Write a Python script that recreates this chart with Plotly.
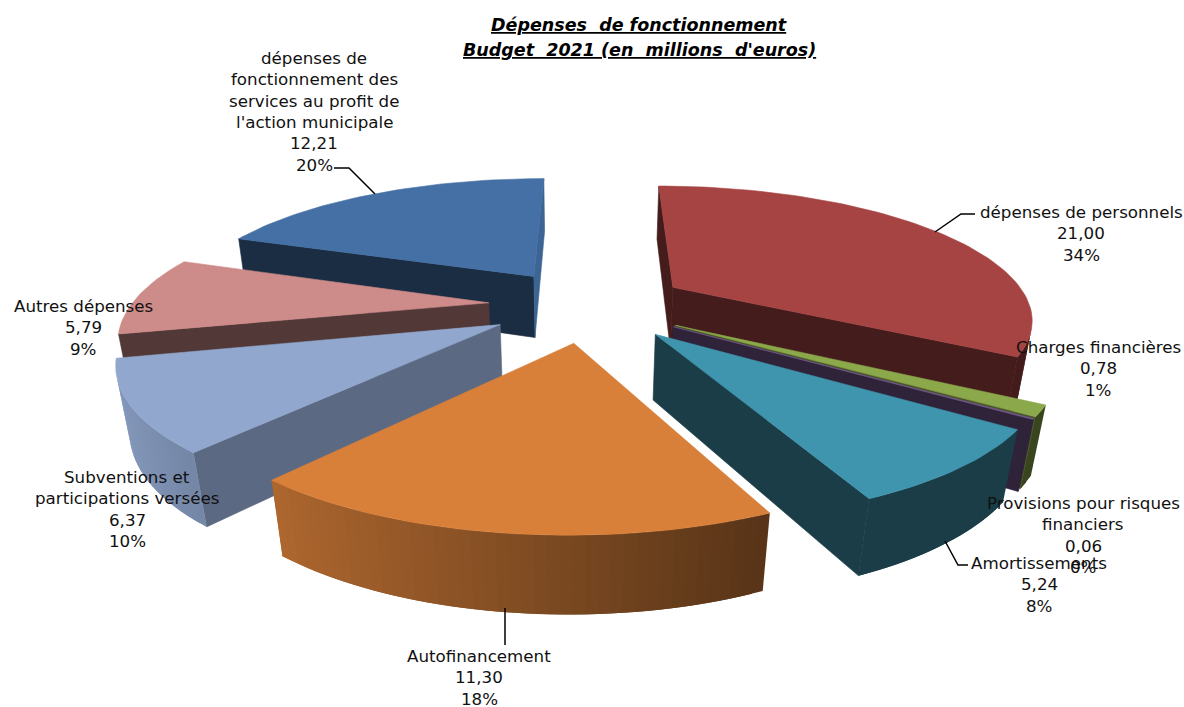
import math
import plotly.graph_objects as go

categories = ["dépenses de personnels", "Charges financières", "Provisions pour risques financiers",
              "Amortissements", "Autofinancement", "Subventions et participations versées",
              "Autres dépenses", "dépenses de fonctionnement des services au profit de l'action municipale"]
values = [21.00, 0.78, 0.06, 5.24, 11.30, 6.37, 5.79, 12.21]
percents = ["34%", "1%", "0%", "8%", "18%", "10%", "9%", "20%"]
label_lines = [["dépenses de personnels"], ["Charges financières"], ["Provisions pour risques", "financiers"],
               ["Amortissements"], ["Autofinancement"], ["Subventions et", "participations versées"],
               ["Autres dépenses"], ["dépenses de", "fonctionnement des", "services au profit de", "l'action municipale"]]
title_lines = ["Dépenses\u00a0 de fonctionnement", "Budget\u00a0 2021 (en\u00a0 millions\u00a0 d'euros)"]

colors = ["#A64443", "#8BA84B", "#72558C", "#4095AE", "#D8803A", "#91A7CE", "#CD8C8A", "#4470A5"]
cut_shade = [(.41, .41), (.5, .5), (.41, .41), (.41, .41), (.6, .41), (.63, .9), (.4, .5), (.4, .9)]
draw_order = [7, 0, 6, 1, 2, 5, 3, 4]
label_xy = [(1081, 212), (1098, 347), (1083, 503), (1039, 563), (479, 656), (127, 477), (83, 306), (314, 58)]
leaders = ["M334,168 L349,168 L375,194", "M975,214 L961,214 L935,232", "M945,541 L958,565 L968,565", "M505,608 L505,645"]

# perspective camera (screen-pixel axes)
VX, HORIZON, DEPTH, ASPECT = 592.0, -294.0, 2755.0, 1.675
CX, CY, EXPLODE = -0.01, 4.6, 0.28
FOOT_X, FOOT_Y = 578.0, 2621.0


def top_point(px, py):
    d = DEPTH / (CY + py)
    return VX + (CX + px) / ASPECT * d, HORIZON + d


def drop(p):
    t = 0.026 + 0.0000465 * (p[1] - 276)
    return p[0] + t * (FOOT_X - p[0]), p[1] + t * (FOOT_Y - p[1])


def shade(hexcol, f):
    r, g, b = (int(hexcol[i:i + 2], 16) for i in (1, 3, 5))
    return f"rgb({r * f:.0f},{g * f:.0f},{b * f:.0f})"


def poly(pts, color, width=0.6):
    xs = [p[0] for p in pts] + [pts[0][0]]
    ys = [p[1] for p in pts] + [pts[0][1]]
    return go.Scatter(x=xs, y=ys, mode="lines", fill="toself", fillcolor=color,
                      line=dict(color=color, width=width), hoverinfo="skip", showlegend=False)


def facing(p, q):
    quad = [p, q, drop(q), drop(p)]
    a = sum(quad[i][0] * quad[(i + 1) % 4][1] - quad[(i + 1) % 4][0] * quad[i][1] for i in range(4))
    return a < 0


total = sum(values)
spans = []
acc = 0.0
for v in values:
    spans.append((acc, acc + v / total * 360))
    acc += v / total * 360

fig = go.Figure()
for i in draw_order:
    a0, a1 = spans[i]
    mid = math.radians((a0 + a1) / 2)
    ox, oy = EXPLODE * math.sin(mid), EXPLODE * math.cos(mid)
    apex = top_point(ox, oy)
    n = max(2, int((a1 - a0) / 1.5))
    angs = [a0 + (a1 - a0) * k / n for k in range(n + 1)]
    rim = [top_point(ox + math.sin(math.radians(a)), oy + math.cos(math.radians(a))) for a in angs]
    # cut faces
    if facing(apex, rim[0]):
        fig.add_trace(poly([apex, rim[0], drop(rim[0]), drop(apex)], shade(colors[i], cut_shade[i][0])))
    if facing(rim[-1], apex):
        fig.add_trace(poly([rim[-1], apex, drop(apex), drop(rim[-1])], shade(colors[i], cut_shade[i][1])))
    # curved face, lit from the left; each band runs under the next so no seams show
    for k in range(n):
        if facing(rim[k], rim[k + 1]):
            nx = math.sin(math.radians((angs[k] + angs[k + 1]) / 2))
            f = max(0.41, 0.56 - 0.377 * nx)
            end = k + 2 if k + 2 <= n and facing(rim[k + 1], rim[k + 2]) else k + 1
            fig.add_trace(poly([rim[k], rim[k + 1], rim[end], drop(rim[end]), drop(rim[k + 1]), drop(rim[k])],
                               shade(colors[i], f), width=0))
    fig.add_trace(poly([apex] + rim, colors[i]))

annotations = []
LABEL_FONT = dict(family="DejaVu Sans", size=16.7, color="#111111")
STEP = 21.3
for i, lines in enumerate(label_lines):
    all_lines = lines + [f"{values[i]:.2f}".replace(".", ","), percents[i]]
    for j, txt in enumerate(all_lines):
        annotations.append(dict(x=label_xy[i][0], y=label_xy[i][1] + j * STEP, text=txt, showarrow=False,
                                xref="x", yref="y", xanchor="center", yanchor="middle", font=LABEL_FONT))
for j, txt in enumerate(title_lines):
    annotations.append(dict(x=639, y=25 + j * 25, text=f"<b><i><u>{txt}</u></i></b>", showarrow=False,
                            xref="x", yref="y", xanchor="center", yanchor="middle",
                            font=dict(family="DejaVu Sans", size=17.5, color="#000000")))

fig.update_layout(
    width=1184, height=707, margin=dict(l=0, r=0, t=0, b=0),
    paper_bgcolor="white", plot_bgcolor="white", showlegend=False,
    xaxis=dict(range=[0, 1184], visible=False, fixedrange=True),
    yaxis=dict(range=[707, 0], visible=False, fixedrange=True),
    annotations=annotations,
    shapes=[dict(type="path", path=p, xref="x", yref="y", line=dict(color="black", width=1.5)) for p in leaders],
)
fig.write_html("out.html", config={"displayModeBar": False}, post_script="document.body.style.margin='0';")
